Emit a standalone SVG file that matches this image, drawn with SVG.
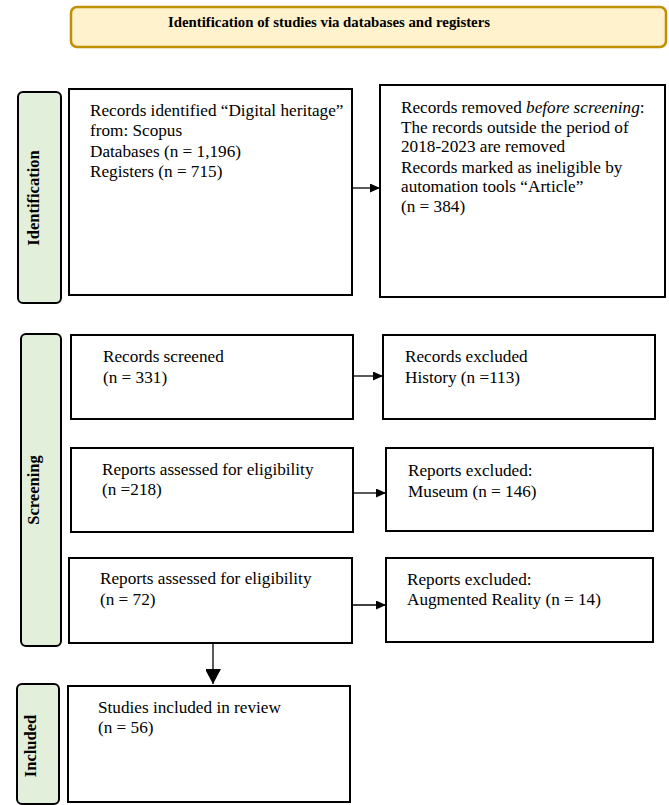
<svg xmlns="http://www.w3.org/2000/svg" width="669" height="805" viewBox="0 0 669 805">
<defs>
<style>
.box{fill:#fff;stroke:#000;stroke-width:2}
.side{fill:#E2EFDA;stroke:#000;stroke-width:2}
.t{font-family:"Liberation Serif","Times New Roman",serif;font-size:17.2px;fill:#000}
.lb{font-family:"Liberation Serif","Times New Roman",serif;font-size:16.5px;font-weight:bold;fill:#000}
.ln{stroke:#000;stroke-width:1.3;fill:none}
</style>
<marker id="ah" markerWidth="10" markerHeight="9" refX="10" refY="4.5" orient="auto" markerUnits="userSpaceOnUse">
<path d="M0,0 L10,4.5 L0,9 Z" fill="#000"/>
</marker>
<marker id="ahb" markerWidth="16" markerHeight="15" refX="15" refY="8" orient="auto" markerUnits="userSpaceOnUse">
<path d="M0,0 L15,8 L0,16 Z" fill="#000"/>
</marker>
</defs>

<g id="banner">
<rect x="71" y="7" width="595" height="40" rx="6" fill="#FFF2CC" stroke="#BF9000" stroke-width="2.5"/>
<text class="lb" x="168" y="27" style="font-size:14.8px">Identification of studies via databases and registers</text>
</g>

<g id="label-identification">
<rect class="side" x="18" y="92" width="43" height="211" rx="5"/>
<text class="lb" transform="translate(39,198) rotate(-90)" text-anchor="middle">Identification</text>
</g>
<g id="label-screening">
<rect class="side" x="21" y="334" width="40" height="312" rx="5"/>
<text class="lb" transform="translate(39,490) rotate(-90)" text-anchor="middle">Screening</text>
</g>
<g id="label-included">
<rect class="side" x="17" y="684" width="42" height="120" rx="5"/>
<text class="lb" transform="translate(36,746) rotate(-90)" text-anchor="middle">Included</text>
</g>

<g id="records-identified">
<rect class="box" x="69" y="89" width="283" height="206"/>
<text class="t"><tspan x="90" y="116">Records identified “Digital heritage”</tspan><tspan x="90" y="136">from: Scopus</tspan><tspan x="90" y="157">Databases (n = 1,196)</tspan><tspan x="90" y="177">Registers (n = 715)</tspan></text>
</g>
<g id="records-removed">
<rect class="box" x="380" y="85" width="285" height="212"/>
<text class="t"><tspan x="401" y="113">Records removed <tspan font-style="italic">before screening</tspan>:</tspan><tspan x="401" y="133">The records outside the period of</tspan><tspan x="401" y="152">2018-2023 are removed</tspan><tspan x="401" y="173">Records marked as ineligible by</tspan><tspan x="401" y="192">automation tools “Article”</tspan><tspan x="401" y="212">(n = 384)</tspan></text>
</g>
<g id="records-screened">
<rect class="box" x="71" y="335" width="282" height="84"/>
<text class="t"><tspan x="103" y="362">Records screened</tspan><tspan x="103" y="383">(n = 331)</tspan></text>
</g>
<g id="records-excluded">
<rect class="box" x="383" y="335" width="272" height="84"/>
<text class="t"><tspan x="405" y="362">Records excluded</tspan><tspan x="405" y="383">History (n =113)</tspan></text>
</g>
<g id="reports-assessed-1">
<rect class="box" x="71" y="448" width="282" height="84"/>
<text class="t"><tspan x="102" y="475">Reports assessed for eligibility</tspan><tspan x="102" y="495">(n =218)</tspan></text>
</g>
<g id="reports-excluded-1">
<rect class="box" x="386" y="448" width="267" height="83"/>
<text class="t"><tspan x="408" y="476">Reports excluded:</tspan><tspan x="408" y="497">Museum (n = 146)</tspan></text>
</g>
<g id="reports-assessed-2">
<rect class="box" x="69" y="558" width="283" height="85"/>
<text class="t"><tspan x="100" y="584">Reports assessed for eligibility</tspan><tspan x="100" y="605">(n = 72)</tspan></text>
</g>
<g id="reports-excluded-2">
<rect class="box" x="386" y="558" width="267" height="84"/>
<text class="t"><tspan x="407" y="585">Reports excluded:</tspan><tspan x="407" y="605">Augmented Reality (n = 14)</tspan></text>
</g>
<g id="studies-included">
<rect class="box" x="68" y="686" width="282" height="116"/>
<text class="t"><tspan x="98" y="713">Studies included in review</tspan><tspan x="98" y="733">(n = 56)</tspan></text>
</g>

<g id="connectors">
<line class="ln" x1="353" y1="188" x2="380" y2="188" marker-end="url(#ah)"/>
<line class="ln" x1="354" y1="376" x2="383" y2="376" marker-end="url(#ah)"/>
<line class="ln" x1="354" y1="493" x2="386" y2="493" marker-end="url(#ah)"/>
<line class="ln" x1="353" y1="605" x2="386" y2="605" marker-end="url(#ah)"/>
<line class="ln" x1="213" y1="644" x2="213" y2="684" marker-end="url(#ahb)"/>
</g>
</svg>
